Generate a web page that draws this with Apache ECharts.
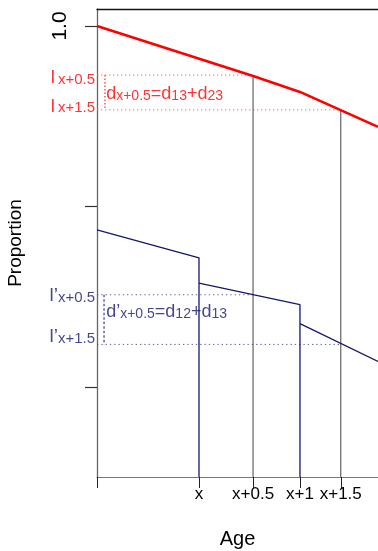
<!DOCTYPE html>
<html><head><meta charset="utf-8">
<script src="https://cdn.jsdelivr.net/npm/echarts@6/dist/echarts.min.js"></script>
<style>html,body{margin:0;padding:0;background:#fff}#c{width:378px;height:551px}</style>
</head><body><div id="c"></div>
<script>
// Age axis (schematic positions) and tick labels
const ageTickValues = [0, 1, 1.53, 1.99, 2.39];
const ageTickLabels = ['', 'x', 'x+0.5', 'x+1', 'x+1.5'];
const ageMax = 2.755;
// Proportion axis
const propTickValues = [0.6, 0.8, 1.0];
const propLabelValues = [1.0];
const propMin = 0.5, propMax = 1.0188;
// Red curve l
const redX = [0, 1.53, 1.99, 2.755];
const redY = [1.0, 0.9446, 0.9269, 0.8881];
// Blue curve l'
const blueX = [0, 1, 1, 1, 1.99, 1.99, 1.99, 2.755];
const blueY = [0.774, 0.743, 0.5, 0.715, 0.691, 0.5, 0.670, 0.628];
// Grey guide verticals at x+0.5 and x+1.5
const guideX = [1.53, 2.39];
const guideTop = [0.9446, 0.907];
// Dotted reference levels
const redLevels = [0.9456, 0.907];
const blueLevels = [0.702, 0.647];
const redBracketX = 0.078, blueBracketX = 0.069;
const redLevelNames = ['x+0.5', 'x+1.5'];
const blueLevelNames = ['x+0.5', 'x+1.5'];
const redEqPos = [0.09, 0.9247];
const blueEqPos = [0.09, 0.683];

const RED = '#ff0000', BLUE = '#16166e', FONT = 'Liberation Sans, Arial, sans-serif';
const zip = (a, b) => a.map((v, i) => [v, b[i]]);

const series = [];
series.push({type:'line', data: zip(redX, redY), symbol:'none', lineStyle:{color:RED, width:2.6}, z:5});
series.push({type:'line', data: zip(blueX, blueY), symbol:'none', lineStyle:{color:BLUE, width:1.3}, z:5});
guideX.forEach((gx, i) => series.push({type:'line', data:[[gx, propMin],[gx, guideTop[i]]], symbol:'none', lineStyle:{color:'#555', width:1.1}, z:3}));
redLevels.forEach((lv, i) => series.push({type:'line', data:[[0, lv],[guideX[i], lv]], symbol:'none', lineStyle:{color:'#ff6a6a', width:1, type:[1.3,2.7]}, z:2}));
series.push({type:'line', data:[[redBracketX, redLevels[0]],[redBracketX, redLevels[1]]], symbol:'none', lineStyle:{color:'#ff3030', width:1.2, type:[1.5,2]}, z:2});
blueLevels.forEach((lv, i) => series.push({type:'line', data:[[0, lv],[guideX[i], lv]], symbol:'none', lineStyle:{color:'#5a5aa0', width:1, type:[1.3,3]}, z:2}));
series.push({type:'line', data:[[blueBracketX, blueLevels[0]],[blueBracketX, blueLevels[1]]], symbol:'none', lineStyle:{color:'#3a3a90', width:1.2, type:[2.5,2]}, z:2});

function levelLabels(levels, names, color, prime, offsets, subDrop, lPad) {
  return {type:'scatter', symbolSize:0, clip:false, silent:true,
    data: levels.map((lv, i) => ({value:[0, lv], name: names[i], label:{offset:[0, offsets[i]]}})),
    label:{show:true, position:'left', distance:2,
      formatter: p => '{l|l' + (prime ? '\u2019' : '') + '}{s|' + p.name + '}',
      rich:{
        l:{fontSize:19, fontFamily:FONT, color:color, verticalAlign:'top', lineHeight:19, padding:[0,lPad,0,0]},
        s:{fontSize:15, fontFamily:FONT, color:color, verticalAlign:'bottom', lineHeight:15, padding:[subDrop,0,0,0]}
      }}};
}
series.push(levelLabels(redLevels, redLevelNames, RED, false, [2.5, -3.5], 9, 3));
series.push(levelLabels(blueLevels, blueLevelNames, BLUE, true, [1, -7.5], 5, 0));

function eqLabel(pos, txt, color) {
  return {type:'scatter', symbolSize:0, clip:false, silent:true, data:[pos],
    label:{show:true, position:'right', distance:0, formatter: txt,
      rich:{
        n:{fontSize:18, fontFamily:FONT, color:color, verticalAlign:'top', lineHeight:18},
        s:{fontSize:14, fontFamily:FONT, color:color, verticalAlign:'bottom', lineHeight:14, padding:[6,0,0,0]}
      }}};
}
series.push(eqLabel(redEqPos, '{n|d}{s|x+0.5}{n|=d}{s|13}{n|+d}{s|23}', RED));
series.push(eqLabel(blueEqPos, '{n|d\u2019}{s|x+0.5}{n|=d}{s|12}{n|+d}{s|13}', BLUE));

const chart = echarts.init(document.getElementById('c'), null, {renderer:'canvas'});
chart.setOption({
  animation:false,
  backgroundColor:'#fff',
  grid:{left:97, right:0, top:9, bottom:74, containLabel:false, outerBoundsMode:'none'},
  xAxis:[{
    type:'value', min:0, max:ageMax, name:'Age', nameLocation:'middle', nameGap:52,
    nameTextStyle:{fontSize:20, fontFamily:FONT, color:'#000'},
    axisLine:{show:true, lineStyle:{color:'#777', width:1.2}},
    axisTick:{show:true, length:11, customValues: ageTickValues, lineStyle:{color:'#222', width:1}},
    axisLabel:{show:true, margin:9, fontSize:17, fontFamily:FONT, color:'#000',
      customValues: ageTickValues.slice(1),
      formatter: v => { const i = ageTickValues.findIndex(t => Math.abs(t - v) < 1e-6); return i >= 0 ? ageTickLabels[i] : ''; }},
    splitLine:{show:false}
  },{
    type:'value', position:'top', min:0, max:ageMax,
    axisLine:{show:true, onZero:false, lineStyle:{color:'#111', width:1.3}},
    axisTick:{show:false}, axisLabel:{show:false}, splitLine:{show:false}
  }],
  yAxis:{
    type:'value', min:propMin, max:propMax, name:'Proportion', nameLocation:'middle', nameGap:72, nameRotate:90,
    nameTextStyle:{fontSize:19, fontFamily:FONT, color:'#000'},
    axisLine:{show:true, lineStyle:{color:'#666', width:1.3}},
    axisTick:{show:true, length:12, customValues: propTickValues, lineStyle:{color:'#333', width:1.2}},
    axisLabel:{show:true, rotate:90, margin:26, fontSize:21, fontFamily:FONT, color:'#000',
      customValues: propLabelValues, formatter: v => v.toFixed(1)},
    splitLine:{show:false}
  },
  series: series
});
</script></body></html>
